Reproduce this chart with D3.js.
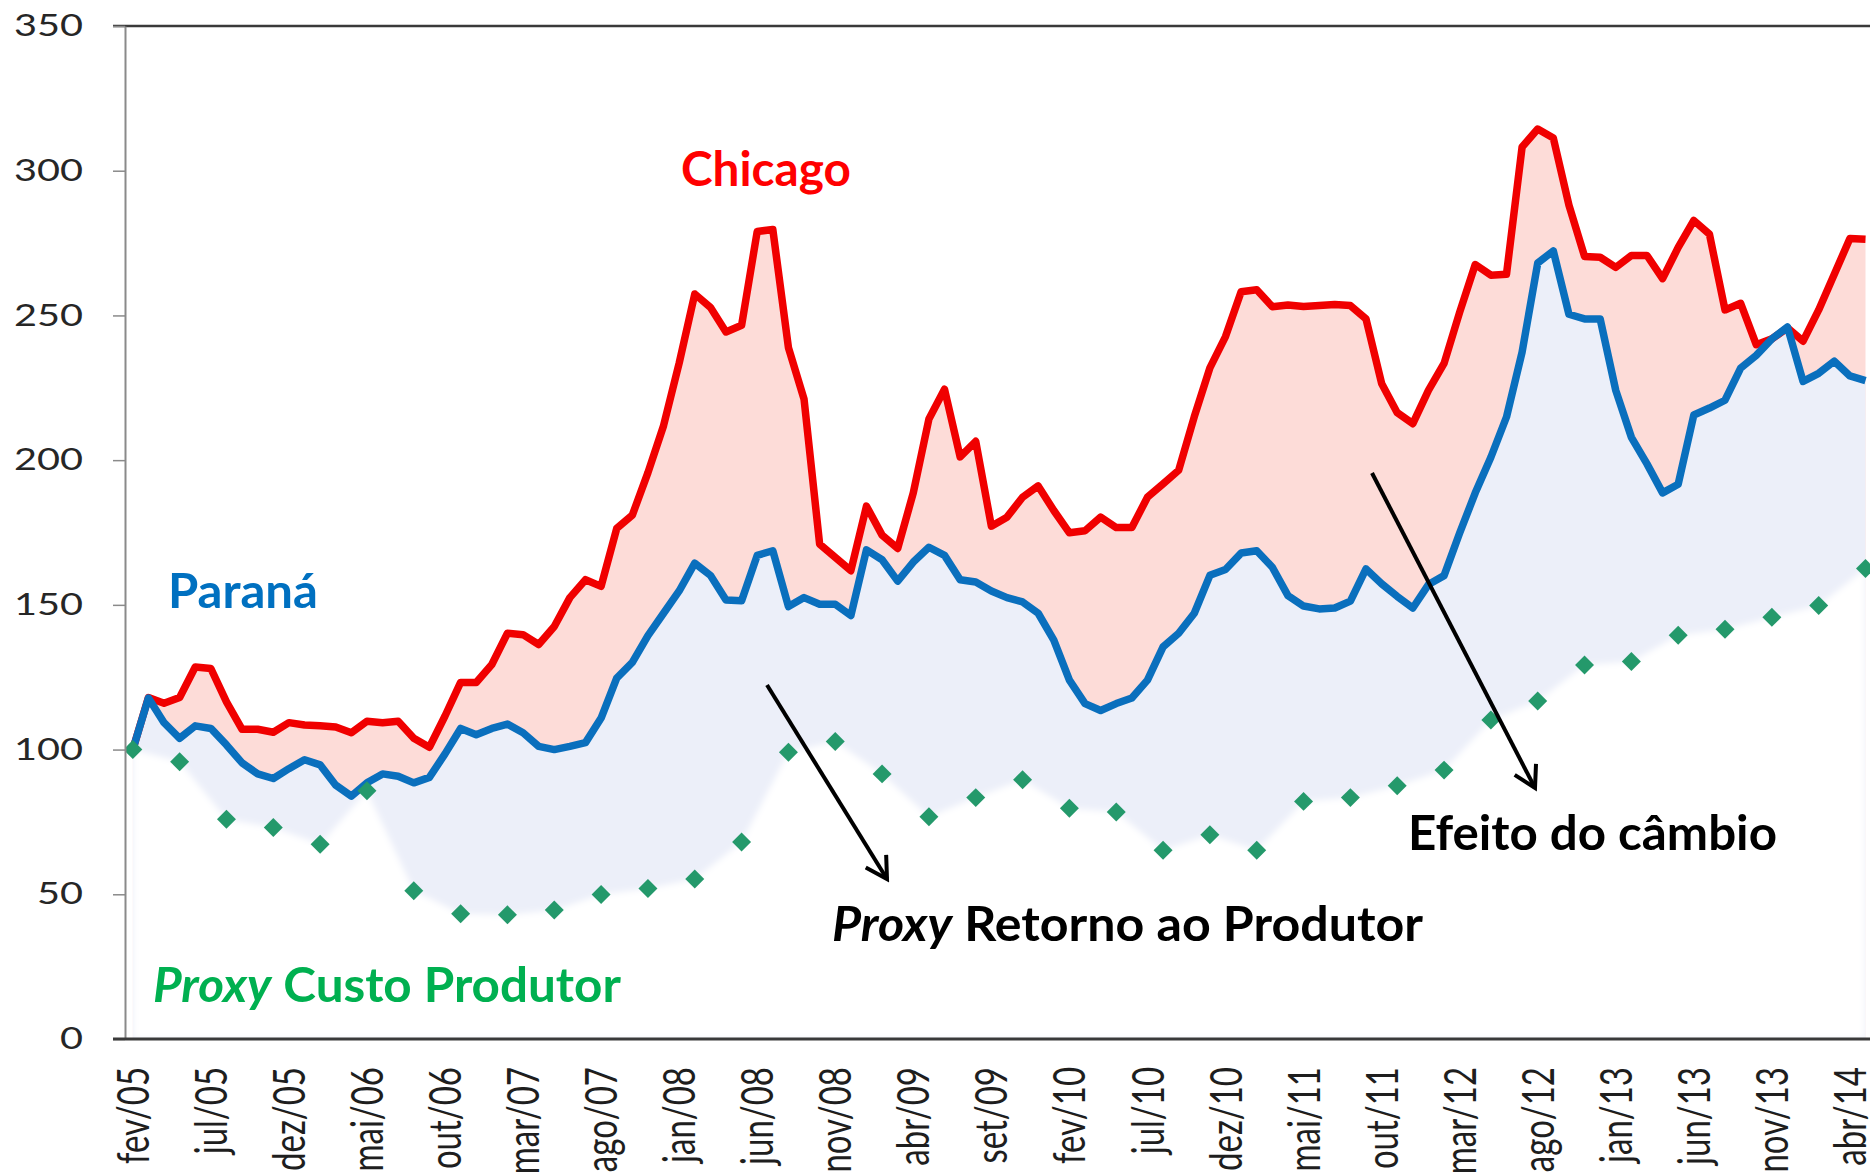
<!DOCTYPE html>
<html>
<head>
<meta charset="utf-8">
<script src="https://cdn.jsdelivr.net/npm/d3@7"></script>
<style>
  body { margin: 0; background: #fff; }
  svg text { font-family: Lato, "Open Sans", sans-serif; }
</style>
</head>
<body>
<svg></svg>
<script>
// month names used to build the monthly categories (fev/05 .. mai/14)
const MONTH_NAMES = ['jan', 'fev', 'mar', 'abr', 'mai', 'jun', 'jul', 'ago', 'set', 'out', 'nov', 'dez'];
const CATEGORIES = d3.range(112).map((i) => {
    const m = (1 + i) % 12;
    const yy = 5 + Math.floor((1 + i) / 12);
    return MONTH_NAMES[m] + '/' + String(yy).padStart(2, '0');
});

const TICK_LABELS = ['fev/05', 'jul/05', 'dez/05', 'mai/06', 'out/06', 'mar/07', 'ago/07', 'jan/08', 'jun/08',
    'nov/08', 'abr/09', 'set/09', 'fev/10', 'jul/10', 'dez/10', 'mai/11', 'out/11', 'mar/12', 'ago/12',
    'jan/13', 'jun/13', 'nov/13', 'abr/14'];

const Y_TICKS = [0, 50, 100, 150, 200, 250, 300, 350];

// Chicago (monthly)
const CHICAGO = [
    100, 118, 116, 118, 128.5, 128, 116.5, 107, 107, 106,
    109.3, 108.5, 108.2, 107.8, 105.8, 109.8, 109.3, 109.8, 103.9, 100.8,
    111.6, 123.2, 123.2, 129.4, 140.2, 139.7, 136.3, 142.5, 152.5, 158.7,
    156.4, 176.4, 181, 195.7, 211.9, 233.5, 257.4, 252.8, 244.3, 246.6,
    279, 279.7, 238.9, 221.1, 171, 166.4, 161.8, 184.1, 174.1, 169.5,
    188.7, 214.2, 224.5, 201.1, 206.5, 177.2, 180.3, 187.2, 191.1, 182.6,
    174.9, 175.6, 180.3, 176.7, 176.7, 187.2, 191.8, 196.5, 215, 231.9,
    242.7, 258.2, 258.9, 253, 253.6, 253.1, 253.4, 253.8, 253.4, 248.8,
    226.5, 216.4, 212.6, 224.1, 233.4, 251.1, 267.6, 263.9, 264.2, 308.2,
    314.4, 311.3, 288.1, 270.4, 270.1, 266.6, 270.7, 270.7, 262.7, 273.5,
    282.8, 278.1, 251.9, 254.2, 239.9, 241.9, 245.7, 241.1, 251.9, 264.2,
    276.6, 276.3
];

// Paraná (monthly)
const PARANA = [
    100, 117.8, 109.3, 103.9, 108.2, 107.3, 101.6, 95.4, 91.6, 90,
    93.4, 96.5, 94.7, 87.7, 83.9, 88.5, 91.6, 90.8, 88.5, 90.4,
    98.5, 107.3, 105.1, 107.3, 108.8, 105.8, 101.1, 100, 101.1, 102.4,
    110.9, 124.7, 130.1, 139.4, 147.1, 154.8, 164.4, 160.2, 151.7, 151.4,
    167.1, 168.7, 149.4, 152.5, 150.2, 150.2, 146.3, 169, 165.6, 158.2,
    164.8, 169.9, 167.1, 158.7, 157.9, 154.8, 152.5, 151, 147.1, 137.8,
    124, 115.9, 113.5, 115.9, 117.8, 124, 135.5, 140.2, 147.1, 160.2,
    162.2, 167.9, 168.7, 163, 153.2, 149.6, 148.6, 148.9, 151.3, 162.4,
    157.3, 152.9, 148.9, 157, 160.1, 174.8, 188.7, 201, 214.9, 237.3,
    268.1, 272.3, 250.4, 248.8, 248.8, 224.1, 207.9, 198.7, 188.7, 191.7,
    215.6, 218, 220.7, 231.8, 236.2, 241.9, 246, 227.2, 230, 234.2,
    229.1, 227.5
];

// Proxy custo produtor (quarterly, fev/05, mai/05, ...)
const CUSTO_MONTHS = CATEGORIES.filter((d, i) => i % 3 === 0);
const CUSTO = [
    100, 95.8, 75.9, 73.1, 67.3, 85.8, 51.2, 43.3, 42.9, 44.6,
    49.9, 52, 55.3, 68.1, 99.1, 102.8, 91.6, 76.8, 83.4, 89.6,
    79.7, 78.4, 65.2, 70.6, 65.2, 82.1, 83.4, 87.5, 92.9, 110.2,
    116.8, 129.2, 130.4, 139.5, 141.6, 145.7, 149.8, 162.6
];

const WIDTH = 1870;
const HEIGHT = 1175;
const PLOT = { left: 125, top: 26, bottom: 1039, step: 15.61 };

const x = d3.scaleBand()
    .domain(CATEGORIES)
    .range([PLOT.left, PLOT.left + PLOT.step * CATEGORIES.length]);
const y = d3.scaleLinear().domain([0, 350]).range([PLOT.bottom, PLOT.top]);
const xc = (m) => x(m) + x.bandwidth() / 2;

const svg = d3.select('svg').attr('width', WIDTH).attr('height', HEIGHT);
const defs = svg.append('defs');

defs.append('clipPath').attr('id', 'plot-clip')
    .append('rect')
    .attr('x', PLOT.left).attr('y', PLOT.top)
    .attr('width', WIDTH - PLOT.left).attr('height', PLOT.bottom - PLOT.top);

defs.append('filter').attr('id', 'soft')
    .attr('x', '-5%').attr('y', '-10%').attr('width', '110%').attr('height', '120%')
    .append('feGaussianBlur').attr('stdDeviation', 3);

defs.append('marker')
    .attr('id', 'arrow')
    .attr('markerUnits', 'userSpaceOnUse')
    .attr('viewBox', '-24 -14 28 28')
    .attr('markerWidth', 28).attr('markerHeight', 28)
    .attr('refX', 0).attr('refY', 0)
    .attr('orient', 'auto')
    .append('path')
    .attr('d', 'M-21,-12 L0,0 L-21,12')
    .attr('fill', 'none')
    .attr('stroke', '#000')
    .attr('stroke-width', 4);

const chicagoData = CATEGORIES.map((m, i) => ({ month: m, value: CHICAGO[i] }));
const paranaData = CATEGORIES.map((m, i) => ({ month: m, value: PARANA[i] }));
const custoData = CUSTO_MONTHS.map((m, i) => ({ month: m, value: CUSTO[i] }));

const area = d3.area().x((d) => xc(d.month)).y0(y(0)).y1((d) => y(d.value));
const line = d3.line().x((d) => xc(d.month)).y((d) => y(d.value));

const plot = svg.append('g').attr('clip-path', 'url(#plot-clip)');

plot.append('path').datum(chicagoData).attr('d', area).attr('fill', '#fddcd8');
plot.append('path').datum(paranaData).attr('d', area).attr('fill', '#eceff9');
plot.append('path').datum(custoData).attr('d', area).attr('fill', '#fff').attr('filter', 'url(#soft)');

plot.append('path').datum(chicagoData).attr('d', line)
    .attr('fill', 'none').attr('stroke', '#f00000').attr('stroke-width', 7.5)
    .attr('stroke-linejoin', 'round');
plot.append('path').datum(paranaData).attr('d', line)
    .attr('fill', 'none').attr('stroke', '#0a6fbd').attr('stroke-width', 7.5)
    .attr('stroke-linejoin', 'round');

plot.selectAll('.custo')
    .data(custoData)
    .enter()
    .append('path')
    .classed('custo', true)
    .attr('d', d3.symbol(d3.symbolSquare, 180))
    .attr('transform', (d) => `translate(${xc(d.month)},${y(d.value)}) rotate(45)`)
    .attr('fill', '#24996b');

// frame: top line and axes
svg.append('line')
    .attr('x1', PLOT.left - 12).attr('x2', WIDTH)
    .attr('y1', PLOT.top).attr('y2', PLOT.top)
    .attr('stroke', '#3a3a3a').attr('stroke-width', 2.5);

const yAxis = svg.append('g')
    .attr('transform', `translate(${PLOT.left},0)`)
    .call(d3.axisLeft(y).tickValues(Y_TICKS).tickSize(12).tickPadding(30).tickSizeOuter(0));
yAxis.select('.domain').attr('stroke', '#8a8a8a').attr('stroke-width', 2);
yAxis.selectAll('.tick line').attr('stroke', '#8a8a8a').attr('stroke-width', 1.5);
yAxis.selectAll('.tick text')
    .attr('font-size', 30)
    .attr('fill', '#262626')
    .attr('textLength', (d) => String(d).length * 23)
    .attr('lengthAdjust', 'spacingAndGlyphs');

const tickMonths = CATEGORIES.filter((m) => TICK_LABELS.includes(m));
const xAxis = svg.append('g')
    .attr('transform', `translate(0,${PLOT.bottom})`)
    .call(d3.axisBottom(x).tickValues(tickMonths).tickSize(0).tickSizeOuter(0));
xAxis.select('.domain').remove();
xAxis.selectAll('.tick text')
    .attr('font-size', 33)
    .attr('fill', '#1e1e1e')
    .attr('text-anchor', 'end')
    .attr('x', -28)
    .attr('y', 0)
    .attr('dy', '0.36em')
    .attr('transform', 'rotate(-90) scale(1,1.35)');

svg.append('line')
    .attr('x1', PLOT.left - 12).attr('x2', WIDTH)
    .attr('y1', PLOT.bottom).attr('y2', PLOT.bottom)
    .attr('stroke', '#3a3a3a').attr('stroke-width', 3);

// annotations
const ARROWS = [
    { x1: 767, y1: 685, x2: 887, y2: 879 },
    { x1: 1372, y1: 473, x2: 1535, y2: 788 },
];
svg.selectAll('.arrow')
    .data(ARROWS)
    .enter()
    .append('line')
    .classed('arrow', true)
    .attr('x1', (d) => d.x1).attr('y1', (d) => d.y1)
    .attr('x2', (d) => d.x2).attr('y2', (d) => d.y2)
    .attr('stroke', '#000').attr('stroke-width', 4)
    .attr('marker-end', 'url(#arrow)');

const LABELS = [
    { parts: [['Chicago', false]], x: 681, y: 186, w: 170, color: '#ff0000' },
    { parts: [['Paraná', false]], x: 168, y: 608, w: 150, color: '#0070c0' },
    { parts: [['Proxy', true], [' Custo Produtor', false]], x: 153, y: 1002, w: 468, color: '#00b050' },
    { parts: [['Proxy', true], [' Retorno ao Produtor', false]], x: 832, y: 941, w: 591, color: '#000' },
    { parts: [['Efeito do câmbio', false]], x: 1408, y: 850, w: 369, color: '#000' },
];

LABELS.forEach((lab) => {
    const t = svg.append('text')
        .attr('font-size', 48)
        .attr('font-weight', 'bold')
        .attr('fill', lab.color)
        .attr('x', 0).attr('y', 0);
    lab.parts.forEach(([s, it]) => {
        t.append('tspan').text(s).attr('font-style', it ? 'italic' : 'normal');
    });
    const k = lab.w / t.node().getComputedTextLength();
    t.attr('transform', `translate(${lab.x},${lab.y}) scale(${k},1)`);
});
</script>
</body>
</html>
